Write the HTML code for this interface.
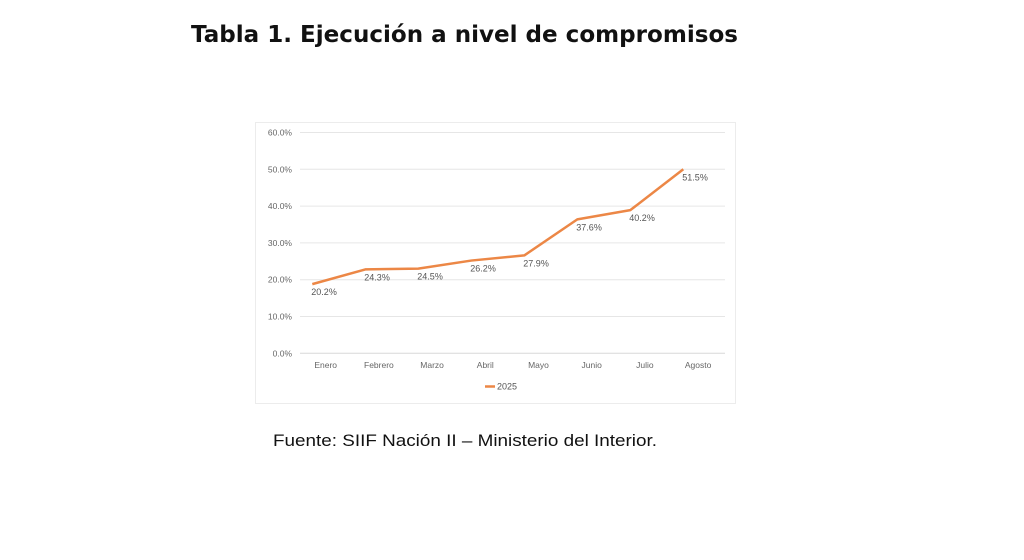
<!DOCTYPE html>
<html><head><meta charset="utf-8">
<style>
html,body{margin:0;padding:0;background:#fff;}
svg{display:block;}
</style></head>
<body>
<svg width="1024" height="560" viewBox="0 0 1024 560">
<rect x="0" y="0" width="1024" height="560" fill="#fff"/>
<text x="191" y="42" font-family="'DejaVu Sans', sans-serif" font-weight="bold" font-size="23" fill="#111" textLength="547" lengthAdjust="spacingAndGlyphs">Tabla 1. Ejecución a nivel de compromisos</text>
<rect x="255.5" y="122.5" width="480" height="281" fill="#fff" stroke="#ececec"/>
<g id="grid"></g>
<g id="yticks"></g>
<g id="xticks"></g>
<g id="series"></g>
<g>
<line x1="485" y1="386.5" x2="495" y2="386.5" stroke="#ec8746" stroke-width="2.5"/>
<text x="497" y="389.5" font-family="'Liberation Sans', sans-serif" font-size="9" fill="#555">2025</text>
</g>
<text x="273" y="446" font-family="'Liberation Sans', sans-serif" font-size="17" fill="#111" textLength="384" lengthAdjust="spacingAndGlyphs">Fuente: SIIF Nación II – Ministerio del Interior.</text>
</svg>
<script>
const categories = ["Enero","Febrero","Marzo","Abril","Mayo","Junio","Julio","Agosto"];
const values = [18.8, 22.8, 23.0, 25.2, 26.6, 36.4, 38.9, 50.0];
const valueLabels = ["20.2%","24.3%","24.5%","26.2%","27.9%","37.6%","40.2%","51.5%"];
const yTicks = [0,10,20,30,40,50,60];
const yTickLabels = ["0.0%","10.0%","20.0%","30.0%","40.0%","50.0%","60.0%"];

const NS="http://www.w3.org/2000/svg";
const y0=353.3, pxPer=3.68;
const yScale=v=>y0-v*pxPer;
const xLabel=i=>325.7+i*53.2;
const xPoint=i=>312.3+i*53;
function mk(tag,attrs,parent){const e=document.createElementNS(NS,tag);for(const k in attrs)e.setAttribute(k,attrs[k]);parent.appendChild(e);return e;}
const grid=document.getElementById('grid'),yt=document.getElementById('yticks'),xt=document.getElementById('xticks'),ser=document.getElementById('series');
yTicks.forEach((t,i)=>{
  const y=yScale(t);
  const l=mk('line',{x1:300,x2:725,y1:y,y2:y,stroke:t===0?'#d8d8d8':'#e6e6e6','stroke-width':1},grid);
  
  
  const tx=mk('text',{x:292,y:y+3,'text-anchor':'end','font-family':"'Liberation Sans', sans-serif",'font-size':8.5,fill:'#666'},yt);
  tx.textContent=yTickLabels[i];
  
  
});
categories.forEach((c,i)=>{
  const tx=mk('text',{x:xLabel(i),y:368,'text-anchor':'middle','font-family':"'Liberation Sans', sans-serif",'font-size':8.5,fill:'#666'},xt);
  tx.textContent=c;
  
  
});
const pts=values.map((v,i)=>xPoint(i)+','+yScale(v)).join(' ');
const pl=mk('polyline',{points:pts,fill:'none',stroke:'#ec8746','stroke-width':2.5,'stroke-linejoin':'round'},ser);


values.forEach((v,i)=>{
  const tx=mk('text',{x:xPoint(i)-1,y:yScale(v)+11,'font-family':"'Liberation Sans', sans-serif",'font-size':9,fill:'#555'},ser);
  tx.textContent=valueLabels[i];
  
  
});
</script>
</body></html>
